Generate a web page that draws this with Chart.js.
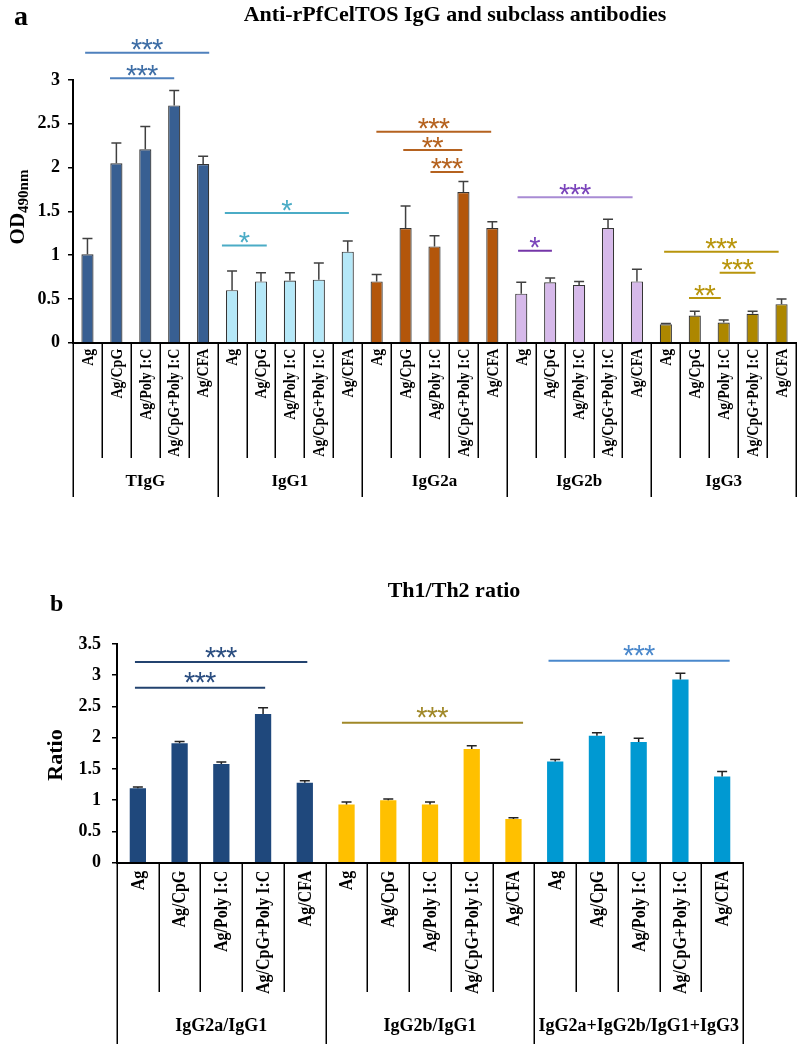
<!DOCTYPE html>
<html>
<head>
<meta charset="utf-8">
<script src="https://cdn.jsdelivr.net/npm/chart.js@4.4.0/dist/chart.umd.min.js"></script>
<style>
  html, body { margin: 0; padding: 0; background: #fff; }
  #wrap { position: relative; width: 797px; height: 1044px; }
  #chA { position: absolute; left: 0; top: 0; }
  #chB { position: absolute; left: 0; top: 530px; }
</style>
</head>
<body>
<div id="wrap">
  <canvas id="chA" width="797" height="530"></canvas>
  <canvas id="chB" width="797" height="514"></canvas>
</div>
<script>
const adjuvants = ['Ag', 'Ag/CpG', 'Ag/Poly I:C', 'Ag/CpG+Poly I:C', 'Ag/CFA'];

// panel a - OD490nm
const groupsA = ['TIgG', 'IgG1', 'IgG2a', 'IgG2b', 'IgG3'];
const tigg = [1.01, 2.05, 2.21, 2.71, 2.04];
const tiggErr = [0.18, 0.23, 0.26, 0.17, 0.09];
const igg1 = [0.60, 0.70, 0.71, 0.72, 1.04];
const igg1Err = [0.22, 0.10, 0.09, 0.19, 0.12];
const igg2a = [0.70, 1.31, 1.10, 1.72, 1.31];
const igg2aErr = [0.08, 0.25, 0.12, 0.12, 0.07];
const igg2b = [0.56, 0.69, 0.66, 1.31, 0.70];
const igg2bErr = [0.13, 0.05, 0.04, 0.10, 0.14];
const igg3 = [0.21, 0.31, 0.23, 0.33, 0.44];
const igg3Err = [0.01, 0.05, 0.03, 0.03, 0.06];
const ticksA = [0, 0.5, 1, 1.5, 2, 2.5, 3];

// panel b - Th1/Th2 ratio
const groupsB = ['IgG2a/IgG1', 'IgG2b/IgG1', 'IgG2a+IgG2b/IgG1+IgG3'];
const ratio2a = [1.19, 1.91, 1.58, 2.38, 1.28];
const ratio2aErr = [0.02, 0.03, 0.03, 0.10, 0.03];
const ratio2b = [0.93, 1.00, 0.93, 1.82, 0.70];
const ratio2bErr = [0.04, 0.02, 0.04, 0.05, 0.02];
const ratioAll = [1.62, 2.03, 1.93, 2.93, 1.38];
const ratioAllErr = [0.03, 0.05, 0.06, 0.10, 0.08];
const ticksB = [0, 0.5, 1, 1.5, 2, 2.5, 3, 3.5];

// significance brackets (bar index span, height in axis units)
const bracketsA = [
  { from: -0.08, to: 4.21, level: 3.31, stars: '***' },
  { from: 0.78, to: 3.0, level: 3.02, stars: '***' },
  { from: 4.75, to: 9.04, level: 1.48, stars: '*' },
  { from: 4.65, to: 6.2, level: 1.11, stars: '*' },
  { from: 9.99, to: 13.96, level: 2.41, stars: '***' },
  { from: 10.92, to: 12.96, level: 2.2, stars: '**' },
  { from: 11.86, to: 13.0, level: 1.95, stars: '***' },
  { from: 14.87, to: 18.85, level: 1.66, stars: '***' },
  { from: 14.89, to: 16.06, level: 1.05, stars: '*' },
  { from: 19.94, to: 23.9, level: 1.04, stars: '***' },
  { from: 21.86, to: 23.1, level: 0.8, stars: '***' },
  { from: 20.8, to: 21.9, level: 0.51, stars: '**' }
];
const bracketsB = [
  { from: -0.07, to: 4.06, level: 3.21, stars: '***' },
  { from: -0.07, to: 3.05, level: 2.8, stars: '***' },
  { from: 4.89, to: 9.23, level: 2.24, stars: '***' },
  { from: 9.84, to: 14.18, level: 3.23, stars: '***' }
];

// styles
const serif = '"Liberation Serif", "Times New Roman", serif';
const barColorsA = ['#385f92', '#b5e8f8', '#b3560b', '#d6b9ea', '#ad8700'];
const barColorsB = ['#1f487c', '#ffc000', '#0099d2'];
const lineColorsA = ['#4f81bd', '#4f81bd', '#4bacc6', '#4bacc6', '#b5621f', '#b5621f', '#b5621f',
  '#a88bd4', '#7536a8', '#b8950c', '#b8950c', '#b8950c'];
const starColorsA = ['#3e6ea6', '#3e6ea6', '#4bacc6', '#4bacc6', '#b5621f', '#b5621f', '#b5621f',
  '#7a44bb', '#7a44bb', '#b8950c', '#b8950c', '#b8950c'];
const lineColorsB = ['#23436f', '#23436f', '#a08828', '#4a88cc'];
const starColorsB = ['#2a4d80', '#2a4d80', '#a08828', '#4a88cc'];

function flatten(lists) {
  return lists.reduce((a, l) => a.concat(l), []);
}

function drawStars(ctx, stars, cx, cy, color, pitch) {
  ctx.save();
  ctx.font = '29px "Liberation Sans", Arial, sans-serif';
  ctx.fillStyle = color;
  ctx.textAlign = 'center';
  ctx.textBaseline = 'alphabetic';
  const m = ctx.measureText('*');
  const base = cy + (m.actualBoundingBoxAscent - m.actualBoundingBoxDescent) / 2;
  const n = stars.length;
  for (let i = 0; i < n; i++) {
    ctx.fillText(stars[i], cx + (i - (n - 1) / 2) * pitch, base);
  }
  ctx.restore();
}

function drawRotLabel(ctx, main, sub, cx, cy, size, subSize) {
  ctx.save();
  ctx.fillStyle = '#000';
  ctx.font = 'bold ' + size + 'px ' + serif;
  const w1 = ctx.measureText(main).width;
  ctx.font = 'bold ' + subSize + 'px ' + serif;
  const w2 = sub ? ctx.measureText(sub).width : 0;
  ctx.translate(cx, cy);
  ctx.rotate(-Math.PI / 2);
  ctx.textAlign = 'left';
  ctx.textBaseline = 'alphabetic';
  const x0 = -(w1 + w2) / 2;
  const base = size * 0.33;
  ctx.font = 'bold ' + size + 'px ' + serif;
  ctx.fillText(main, x0, base);
  if (sub) {
    ctx.font = 'bold ' + subSize + 'px ' + serif;
    ctx.fillText(sub, x0 + w1, base + subSize * 0.3);
  }
  ctx.restore();
}

function decor(cfg) {
  return {
    id: 'decor',
    afterDatasetsDraw(chart) {
      const ctx = chart.ctx;
      const xs = chart.scales.x;
      const ys = chart.scales.y;
      const area = chart.chartArea;
      const meta = chart.getDatasetMeta(0);
      const values = chart.data.datasets[0].data;
      const labels = chart.data.labels;

      // error bars
      ctx.save();
      ctx.strokeStyle = cfg.errColor;
      ctx.lineWidth = 1.5;
      values.forEach((v, i) => {
        const x = meta.data[i].x;
        const y0 = ys.getPixelForValue(v);
        const y1 = ys.getPixelForValue(v + cfg.errors[i]);
        ctx.beginPath();
        ctx.moveTo(x, y0);
        ctx.lineTo(x, y1);
        ctx.moveTo(x - cfg.cap / 2, y1);
        ctx.lineTo(x + cfg.cap / 2, y1);
        ctx.stroke();
      });
      ctx.restore();

      // table-like category axis
      ctx.save();
      ctx.strokeStyle = '#000';
      ctx.lineWidth = 1.5;
      for (let i = 0; i <= labels.length; i++) {
        const x = Math.round(xs.getPixelForValue(i - 0.5)) + 0.25;
        ctx.beginPath();
        ctx.moveTo(x, area.bottom);
        ctx.lineTo(x, i % 5 === 0 ? cfg.groupBottom : cfg.catBottom);
        ctx.stroke();
      }
      ctx.fillStyle = '#000';
      ctx.font = 'bold ' + cfg.labelSize + 'px ' + serif;
      ctx.textAlign = 'right';
      ctx.textBaseline = 'middle';
      labels.forEach((lab, i) => {
        ctx.save();
        ctx.translate(xs.getPixelForValue(i) + 1, area.bottom + cfg.labelGap);
        ctx.rotate(-Math.PI / 2);
        ctx.scale(1, 1.18);
        ctx.fillText(lab, 0, 0);
        ctx.restore();
      });
      ctx.font = 'bold ' + cfg.groupSize + 'px ' + serif;
      ctx.textAlign = 'center';
      ctx.textBaseline = 'alphabetic';
      cfg.groups.forEach((g, k) => {
        ctx.fillText(g, xs.getPixelForValue(k * 5 + 2), cfg.groupBase);
      });
      ctx.restore();

      // significance brackets
      cfg.brackets.forEach((b, k) => {
        const x1 = xs.getPixelForValue(b.from);
        const x2 = xs.getPixelForValue(b.to);
        const y = ys.getPixelForValue(b.level);
        ctx.save();
        ctx.strokeStyle = cfg.lineColors[k];
        ctx.lineWidth = 2;
        ctx.beginPath();
        ctx.moveTo(x1, y);
        ctx.lineTo(x2, y);
        ctx.stroke();
        ctx.restore();
        drawStars(ctx, b.stars, (x1 + x2) / 2, y - cfg.starLift, cfg.starColors[k], 10.5);
      });

      // titles
      ctx.save();
      ctx.fillStyle = '#000';
      ctx.textBaseline = 'alphabetic';
      ctx.font = 'bold ' + cfg.panelSize + 'px ' + serif;
      ctx.textAlign = 'left';
      ctx.fillText(cfg.panel, cfg.panelX, cfg.panelY);
      ctx.font = 'bold 22px ' + serif;
      ctx.textAlign = 'center';
      ctx.fillText(cfg.title, cfg.titleX, cfg.titleY);
      ctx.restore();
      drawRotLabel(ctx, cfg.yTitle, cfg.ySub, cfg.yTitleX, cfg.yTitleY, cfg.yTitleSize, 15);
    }
  };
}

function makeChart(id, o) {
  return new Chart(document.getElementById(id), {
    type: 'bar',
    data: {
      labels: o.labels,
      datasets: [{
        data: o.values,
        backgroundColor: o.colors,
        borderColor: o.border ? '#353535' : 'rgba(0,0,0,0)',
        borderWidth: o.border ? 1.2 : 0,
        barPercentage: o.barPct,
        categoryPercentage: 1
      }]
    },
    options: {
      responsive: false,
      animation: false,
      events: [],
      layout: { padding: { top: o.top, right: o.right, left: 0, bottom: 0 } },
      plugins: { legend: { display: false }, tooltip: { enabled: false }, title: { display: false } },
      scales: {
        x: {
          ticks: { display: false },
          grid: { display: false },
          border: { color: '#000', width: 2 },
          afterFit(s) { s.height = o.xHeight; }
        },
        y: {
          min: o.ticks[0],
          max: o.ticks[o.ticks.length - 1],
          afterBuildTicks(s) { s.ticks = o.ticks.map(v => ({ value: v })); },
          ticks: {
            color: '#000',
            padding: o.tickPad,
            font: { family: serif, size: o.tickSize, weight: 'bold' },
            callback: v => String(v)
          },
          grid: { drawOnChartArea: false, color: '#000', tickLength: 5, lineWidth: 1.5 },
          border: { color: '#000', width: 2 },
          afterFit(s) { s.width = o.yWidth; }
        }
      }
    },
    plugins: [decor(o.decor)]
  });
}

const labelsA = flatten(groupsA.map(() => adjuvants));
const valuesA = flatten([tigg, igg1, igg2a, igg2b, igg3]);
const errorsA = flatten([tiggErr, igg1Err, igg2aErr, igg2bErr, igg3Err]);
const colorsA = flatten(barColorsA.map(c => adjuvants.map(() => c)));

makeChart('chA', {
  labels: labelsA, values: valuesA, colors: colorsA, border: true, barPct: 0.42,
  top: 80, right: 1, xHeight: 530 - 342.7, yWidth: 73,
  ticks: ticksA, tickPad: 8, tickSize: 18,
  decor: {
    errors: errorsA, errColor: '#404040', cap: 10,
    groups: groupsA, labelSize: 14, labelGap: 6, groupSize: 17,
    catBottom: 458, groupBottom: 497, groupBase: 486,
    brackets: bracketsA, lineColors: lineColorsA, starColors: starColorsA, starLift: 8,
    panel: 'a', panelSize: 28, panelX: 14, panelY: 25,
    title: 'Anti-rPfCelTOS IgG and subclass antibodies', titleX: 455, titleY: 21,
    yTitle: 'OD', ySub: '490nm', yTitleX: 17, yTitleY: 207, yTitleSize: 21
  }
});

const labelsB = flatten(groupsB.map(() => adjuvants));
const valuesB = flatten([ratio2a, ratio2b, ratioAll]);
const errorsB = flatten([ratio2aErr, ratio2bErr, ratioAllErr]);
const colorsB = flatten(barColorsB.map(c => adjuvants.map(() => c)));

makeChart('chB', {
  labels: labelsB, values: valuesB, colors: colorsB, border: false, barPct: 0.39,
  top: 114, right: 54, xHeight: 514 - 332.7, yWidth: 117,
  ticks: ticksB, tickPad: 11, tickSize: 18,
  decor: {
    errors: errorsB, errColor: '#222', cap: 10,
    groups: groupsB, labelSize: 16, labelGap: 8, groupSize: 18,
    catBottom: 462, groupBottom: 514, groupBase: 501,
    brackets: bracketsB, lineColors: lineColorsB, starColors: starColorsB, starLift: 10,
    panel: 'b', panelSize: 24, panelX: 50, panelY: 81,
    title: 'Th1/Th2 ratio', titleX: 454, titleY: 67,
    yTitle: 'Ratio', ySub: '', yTitleX: 55, yTitleY: 225, yTitleSize: 22
  }
});
</script>
</body>
</html>
